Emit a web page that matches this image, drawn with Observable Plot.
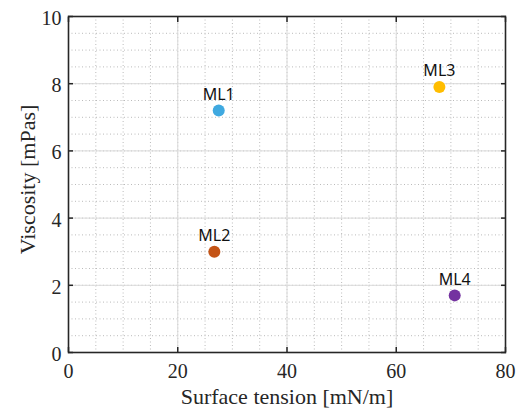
<!DOCTYPE html>
<html><head><meta charset="utf-8">
<script src="https://cdn.jsdelivr.net/npm/d3@7"></script>
<script src="https://cdn.jsdelivr.net/npm/@observablehq/plot@0.6"></script>
<style>body{margin:0;background:#fff}</style>
</head><body><div id="chart"></div>
<script>
const names = ["ML1", "ML2", "ML3", "ML4"];
const surfaceTension = [27.5, 26.7, 67.9, 70.7];
const viscosity = [7.2, 3.0, 7.9, 1.7];
const colors = ["#3FA9E0", "#C45416", "#FFBD00", "#7432A0"];
const xTicks = [0, 20, 40, 60, 80];
const yTicks = [0, 2, 4, 6, 8, 10];
const xMinor = d3.range(0, 81, 5);
const yMinor = d3.range(0, 10.01, 0.5);
const xLabel = "Surface tension [mN/m]";
const yLabel = "Viscosity [mPas]";

const data = names.map((n, i) => ({name: n, x: surfaceTension[i], y: viscosity[i], color: colors[i]}));

const chart = Plot.plot({
  width: 516, height: 410,
  marginLeft: 68, marginRight: 11, marginTop: 16, marginBottom: 58,
  x: {domain: [0, 80]},
  y: {domain: [0, 10]},
  style: {fontFamily: "'Liberation Serif', serif", fontSize: "20px", color: "#262626", background: "#fff"},
  marks: [
    Plot.gridX(xMinor, {stroke: "#bbb", strokeOpacity: 1, strokeDasharray: "1,2.5"}),
    Plot.gridY(yMinor, {stroke: "#bbb", strokeOpacity: 1, strokeDasharray: "1,2.5"}),
    Plot.gridX(xTicks, {stroke: "#dadada", strokeOpacity: 1}),
    Plot.gridY(yTicks, {stroke: "#dadada", strokeOpacity: 1}),
    Plot.frame({stroke: "#262626", strokeWidth: 1.6}),
    Plot.axisX(xTicks, {anchor: "bottom", tickSize: -5, strokeWidth: 1.5, tickFormat: () => "", label: null}),
    Plot.axisX(xTicks, {anchor: "top", tickSize: -5, strokeWidth: 1.5, tickFormat: () => "", label: null}),
    Plot.axisY(yTicks, {anchor: "left", tickSize: -5, strokeWidth: 1.5, tickFormat: () => "", label: null}),
    Plot.axisY(yTicks, {anchor: "right", tickSize: -5, strokeWidth: 1.5, tickFormat: () => "", label: null}),
    Plot.axisX(xTicks, {anchor: "bottom", tickSize: 0, tickPadding: 11, label: null, fontSize: 20}),
    Plot.axisY(yTicks, {anchor: "left", tickSize: 0, tickPadding: 7, dy: 2, label: null, fontSize: 20}),
    Plot.text([xLabel], {text: d => d, frameAnchor: "bottom", textAnchor: "middle", lineAnchor: "middle", dy: 44, fontSize: 22, fill: "#262626"}),
    Plot.text([yLabel], {text: d => d, frameAnchor: "left", textAnchor: "middle", lineAnchor: "middle", rotate: -90, dx: -41, dy: -5, fontSize: 22, fill: "#262626"}),
    Plot.dot(data, {x: "x", y: "y", r: 6, fill: "color", stroke: null}),
    Plot.text(data, {x: "x", y: "y", text: "name", dy: -16, fontSize: 16, fontFamily: "'Noto Sans', sans-serif", fill: "#111"})
  ]
});
document.getElementById("chart").appendChild(chart);
</script>
</body></html>
